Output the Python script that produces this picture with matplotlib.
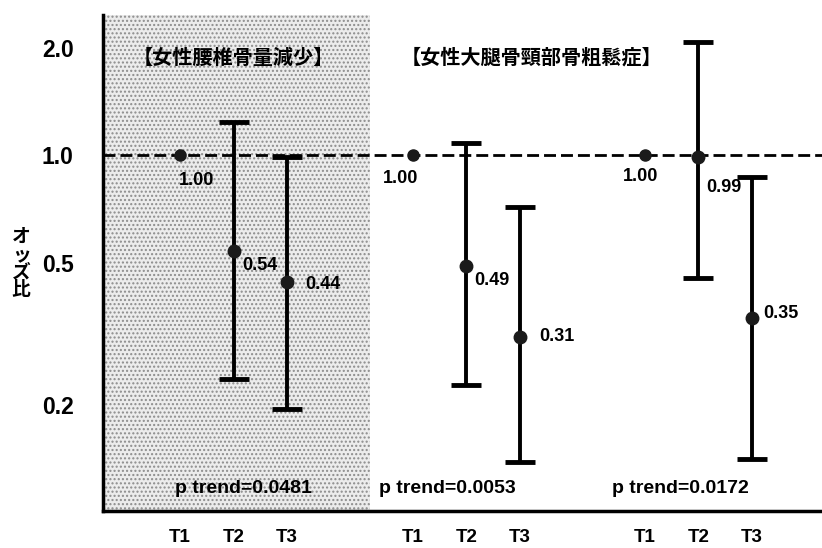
import numpy as np
import matplotlib
matplotlib.use('Agg')
import matplotlib.pyplot as plt

plt.rcParams['font.family'] = ['Liberation Sans', 'Noto Sans CJK JP', 'DejaVu Sans']

# data
group_titles = ['【女性腰椎骨量減少】', '【女性大腿骨頸部骨粗鬆症】']
tertiles = ['T1', 'T2', 'T3']
odds = [[1.00, 0.54, 0.44],
        [1.00, 0.49, 0.31],
        [1.00, 0.99, 0.35]]
ci_low = [[1.00, 0.236, 0.194],
          [1.00, 0.227, 0.138],
          [1.00, 0.452, 0.141]]
ci_high = [[1.00, 1.24, 0.99],
           [1.00, 1.08, 0.715],
           [1.00, 2.07, 0.868]]
p_trend = ['0.0481', '0.0053', '0.0172']

# layout
group_start = [1.44, 5.79, 10.13]
step = 1.0
label_offsets = [[(17, -25), (9, -15), (18, -2)],
                 [(-12, -23), (8, -15), (19, 0)],
                 [(-4, -21), (8, -31), (11, 4)]]
ptrend_x = [2.62, 6.43, 10.79]
title_x = [2.43, 8.0]

fig = plt.figure(figsize=(8.22, 5.48), dpi=100)
ax = fig.add_axes([103/822, 37/548, 1 - 103/822, 496/548])
ax.set_yscale('log')
ax.set_ylim(0.1007, 2.47)
ax.set_xlim(0, 719/53.5)

# stippled panel behind the first group
ax.axvspan(0, 4.99, facecolor='#ececec', edgecolor='#8c8c8c', hatch='....', lw=0, zorder=0)

ax.axhline(1.0, color='black', lw=2, ls=(0, (4.3, 1.8)), zorder=1)

xticks = []
for g in range(3):
    xs = [group_start[g] + i * step for i in range(3)]
    xticks += xs
    for i in range(3):
        y = odds[g][i]
        if i > 0:
            ax.errorbar(xs[i], y, yerr=[[y - ci_low[g][i]], [ci_high[g][i] - y]],
                        fmt='none', ecolor='black', elinewidth=2.8, capsize=11, capthick=3.5, zorder=2)
        ax.plot(xs[i], y, 'o', color='#1a1a1a', ms=9 if i else 8, zorder=3)
        dx, dy = label_offsets[g][i]
        ha = 'center' if i == 0 else 'left'
        ax.annotate(f'{y:.2f}', (xs[i], y), xytext=(dx, dy), textcoords='offset pixels',
                    ha=ha, va='center', fontsize=13, fontweight='bold', zorder=4)
    ax.text(ptrend_x[g], 0.046, f'p trend={p_trend[g]}', transform=ax.get_xaxis_transform(),
            ha='center', va='center', fontsize=14, fontweight='bold')

for t, x in zip(group_titles, title_x):
    ax.text(x, 0.915, t, transform=ax.get_xaxis_transform(), ha='center', va='center',
            fontsize=14.5, fontweight='bold', family=['Noto Sans CJK JP'])

ax.set_xticks(xticks)
ax.set_xticklabels(tertiles * 3, fontsize=13.5, fontweight='bold')
ax.set_yticks([0.2, 0.5, 1.0, 2.0])
ax.set_yticklabels(['0.2', '0.5', '1.0', '2.0'], fontsize=16.5, fontweight='bold')
ax.yaxis.set_minor_locator(matplotlib.ticker.NullLocator())
ax.tick_params(axis='both', length=0)
ax.tick_params(axis='y', pad=21)
ax.tick_params(axis='x', pad=13)

for s in ['top', 'right']:
    ax.spines[s].set_visible(False)
ax.spines['left'].set_linewidth(2.5)
ax.spines['bottom'].set_linewidth(2.5)

fig.text(21/822, 1 - 263/548, '\n'.join('オッズ比'), ha='center', va='center', fontsize=13.5,
         fontweight='bold', family=['Noto Sans CJK JP'], linespacing=0.9)

fig.savefig('out.png', dpi=100)
